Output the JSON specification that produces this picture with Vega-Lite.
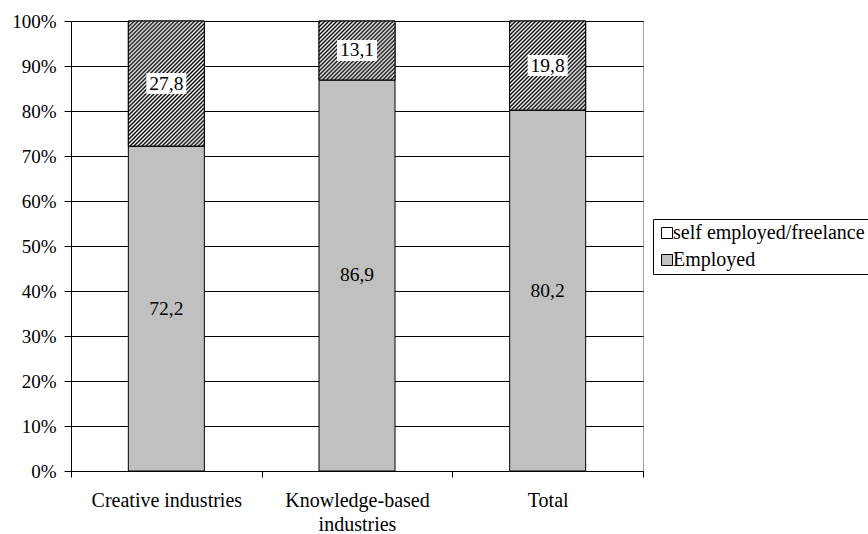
{
  "$schema": "https://vega.github.io/schema/vega-lite/v6.json",
  "width": 572,
  "height": 450,
  "autosize": {"type": "none"},
  "padding": {"left": 71, "top": 21, "right": 225, "bottom": 63},
  "background": "#ffffff",
  "config": {
    "locale": {"number": {"decimal": ",", "thousands": ".", "grouping": [3], "currency": ["", " €"]}},
    "numberFormat": ".0%",
    "view": {"stroke": "#a0a0a0", "strokeWidth": 1},
    "font": "Liberation Serif",
    "axis": {"labelFont": "Liberation Serif", "labelColor": "#000000", "domainColor": "#000000", "tickColor": "#000000", "domainWidth": 1, "tickWidth": 1},
    "axisY": {"grid": true, "gridColor": "#000000", "gridWidth": 1, "tickCount": 10, "tickSize": 7, "labelPadding": 8, "labelFontSize": 19},
    "axisX": {"grid": false}
  },
  "data": {
    "values": [
      {"sector": "Creative industries", "status": "Employed", "share": 72.2},
      {"sector": "Creative industries", "status": "self employed/freelance", "share": 27.8},
      {"sector": "Knowledge-based industries", "status": "Employed", "share": 86.9},
      {"sector": "Knowledge-based industries", "status": "self employed/freelance", "share": 13.1},
      {"sector": "Total", "status": "Employed", "share": 80.2},
      {"sector": "Total", "status": "self employed/freelance", "share": 19.8}
    ]
  },
  "transform": [
    {"stack": "share", "groupby": ["sector"], "sort": [{"field": "status", "order": "ascending"}], "offset": "normalize", "as": ["lo", "hi"]},
    {"calculate": "(datum.lo + datum.hi) / 2", "as": "mid"}
  ],
  "encoding": {
    "x": {
      "field": "sector",
      "type": "nominal",
      "sort": null,
      "title": null,
      "scale": {"paddingInner": 0, "paddingOuter": 0},
      "axis": {
        "labelAngle": 0,
        "labelFontSize": 20,
        "tickBand": "extent",
        "tickSize": 6,
        "labelPadding": 13,
        "labelLineHeight": 24,
        "labelLimit": 300,
        "labelExpr": "datum.value === 'Knowledge-based industries' ? ['Knowledge-based', 'industries'] : datum.value"
      }
    }
  },
  "layer": [
    {
      "mark": {"type": "bar", "size": 76, "stroke": "#000000", "strokeWidth": 1, "opacity": 1},
      "encoding": {
        "y": {"field": "lo", "type": "quantitative", "title": null, "scale": {"domain": [0, 1], "nice": false}},
        "y2": {"field": "hi"},
        "color": {
          "field": "status",
          "type": "nominal",
          "scale": {"domain": ["self employed/freelance", "Employed"], "range": ["#ffffff", "#c0c0c0"]},
          "legend": {
            "title": null,
            "orient": "none",
            "legendX": 582,
            "legendY": 198,
            "direction": "vertical",
            "padding": 4,
            "strokeColor": "#000000",
            "fillColor": "#ffffff",
            "symbolType": "square",
            "symbolSize": 121,
            "symbolStrokeColor": "#000000",
            "symbolStrokeWidth": 1,
            "symbolOpacity": 1,
            "labelFont": "Liberation Serif",
            "labelFontSize": 20,
            "labelColor": "#000000",
            "labelOffset": -4,
            "labelLimit": 300,
            "rowPadding": 7
          }
        }
      }
    },
    {
      "transform": [{"filter": "datum.sector === 'Creative industries' && datum.status !== 'Employed'"}],
      "mark": {"type": "bar", "size": 76, "stroke": "#000000", "strokeWidth": 1, "fill": {"gradient": "linear", "x1": 0, "y1": 0, "x2": 0.7133, "y2": 1.1742, "stops": [
        {"offset": 0, "color": "#fff"}, {"offset": 0.01, "color": "#000"}, {"offset": 0.02, "color": "#fff"}, {"offset": 0.03, "color": "#000"}, {"offset": 0.04, "color": "#fff"}, {"offset": 0.05, "color": "#000"}, {"offset": 0.06, "color": "#fff"}, {"offset": 0.07, "color": "#000"}, {"offset": 0.08, "color": "#fff"}, {"offset": 0.09, "color": "#000"},
        {"offset": 0.1, "color": "#fff"}, {"offset": 0.11, "color": "#000"}, {"offset": 0.12, "color": "#fff"}, {"offset": 0.13, "color": "#000"}, {"offset": 0.14, "color": "#fff"}, {"offset": 0.15, "color": "#000"}, {"offset": 0.16, "color": "#fff"}, {"offset": 0.17, "color": "#000"}, {"offset": 0.18, "color": "#fff"}, {"offset": 0.19, "color": "#000"},
        {"offset": 0.2, "color": "#fff"}, {"offset": 0.21, "color": "#000"}, {"offset": 0.22, "color": "#fff"}, {"offset": 0.23, "color": "#000"}, {"offset": 0.24, "color": "#fff"}, {"offset": 0.25, "color": "#000"}, {"offset": 0.26, "color": "#fff"}, {"offset": 0.27, "color": "#000"}, {"offset": 0.28, "color": "#fff"}, {"offset": 0.29, "color": "#000"},
        {"offset": 0.3, "color": "#fff"}, {"offset": 0.31, "color": "#000"}, {"offset": 0.32, "color": "#fff"}, {"offset": 0.33, "color": "#000"}, {"offset": 0.34, "color": "#fff"}, {"offset": 0.35, "color": "#000"}, {"offset": 0.36, "color": "#fff"}, {"offset": 0.37, "color": "#000"}, {"offset": 0.38, "color": "#fff"}, {"offset": 0.39, "color": "#000"},
        {"offset": 0.4, "color": "#fff"}, {"offset": 0.41, "color": "#000"}, {"offset": 0.42, "color": "#fff"}, {"offset": 0.43, "color": "#000"}, {"offset": 0.44, "color": "#fff"}, {"offset": 0.45, "color": "#000"}, {"offset": 0.46, "color": "#fff"}, {"offset": 0.47, "color": "#000"}, {"offset": 0.48, "color": "#fff"}, {"offset": 0.49, "color": "#000"},
        {"offset": 0.5, "color": "#fff"}, {"offset": 0.51, "color": "#000"}, {"offset": 0.52, "color": "#fff"}, {"offset": 0.53, "color": "#000"}, {"offset": 0.54, "color": "#fff"}, {"offset": 0.55, "color": "#000"}, {"offset": 0.56, "color": "#fff"}, {"offset": 0.57, "color": "#000"}, {"offset": 0.58, "color": "#fff"}, {"offset": 0.59, "color": "#000"},
        {"offset": 0.6, "color": "#fff"}, {"offset": 0.61, "color": "#000"}, {"offset": 0.62, "color": "#fff"}, {"offset": 0.63, "color": "#000"}, {"offset": 0.64, "color": "#fff"}, {"offset": 0.65, "color": "#000"}, {"offset": 0.66, "color": "#fff"}, {"offset": 0.67, "color": "#000"}, {"offset": 0.68, "color": "#fff"}, {"offset": 0.69, "color": "#000"},
        {"offset": 0.7, "color": "#fff"}, {"offset": 0.71, "color": "#000"}, {"offset": 0.72, "color": "#fff"}, {"offset": 0.73, "color": "#000"}, {"offset": 0.74, "color": "#fff"}, {"offset": 0.75, "color": "#000"}, {"offset": 0.76, "color": "#fff"}, {"offset": 0.77, "color": "#000"}, {"offset": 0.78, "color": "#fff"}, {"offset": 0.79, "color": "#000"},
        {"offset": 0.8, "color": "#fff"}, {"offset": 0.81, "color": "#000"}, {"offset": 0.82, "color": "#fff"}, {"offset": 0.83, "color": "#000"}, {"offset": 0.84, "color": "#fff"}, {"offset": 0.85, "color": "#000"}, {"offset": 0.86, "color": "#fff"}, {"offset": 0.87, "color": "#000"}, {"offset": 0.88, "color": "#fff"}, {"offset": 0.89, "color": "#000"},
        {"offset": 0.9, "color": "#fff"}, {"offset": 0.91, "color": "#000"}, {"offset": 0.92, "color": "#fff"}, {"offset": 0.93, "color": "#000"}, {"offset": 0.94, "color": "#fff"}, {"offset": 0.95, "color": "#000"}, {"offset": 0.96, "color": "#fff"}, {"offset": 0.97, "color": "#000"}, {"offset": 0.98, "color": "#fff"}, {"offset": 0.99, "color": "#000"},
        {"offset": 1, "color": "#fff"}
      ]}},
      "encoding": {
        "y": {"field": "lo", "type": "quantitative", "title": null},
        "y2": {"field": "hi"}
      }
    },
    {
      "transform": [{"filter": "datum.sector === 'Knowledge-based industries' && datum.status !== 'Employed'"}],
      "mark": {"type": "bar", "size": 76, "stroke": "#000000", "strokeWidth": 1, "fill": {"gradient": "linear", "x1": 0, "y1": 0, "x2": 1.6521, "y2": 1.2815, "stops": [
        {"offset": 0, "color": "#fff"}, {"offset": 0.01, "color": "#000"}, {"offset": 0.02, "color": "#fff"}, {"offset": 0.03, "color": "#000"}, {"offset": 0.04, "color": "#fff"}, {"offset": 0.05, "color": "#000"}, {"offset": 0.06, "color": "#fff"}, {"offset": 0.07, "color": "#000"}, {"offset": 0.08, "color": "#fff"}, {"offset": 0.09, "color": "#000"},
        {"offset": 0.1, "color": "#fff"}, {"offset": 0.11, "color": "#000"}, {"offset": 0.12, "color": "#fff"}, {"offset": 0.13, "color": "#000"}, {"offset": 0.14, "color": "#fff"}, {"offset": 0.15, "color": "#000"}, {"offset": 0.16, "color": "#fff"}, {"offset": 0.17, "color": "#000"}, {"offset": 0.18, "color": "#fff"}, {"offset": 0.19, "color": "#000"},
        {"offset": 0.2, "color": "#fff"}, {"offset": 0.21, "color": "#000"}, {"offset": 0.22, "color": "#fff"}, {"offset": 0.23, "color": "#000"}, {"offset": 0.24, "color": "#fff"}, {"offset": 0.25, "color": "#000"}, {"offset": 0.26, "color": "#fff"}, {"offset": 0.27, "color": "#000"}, {"offset": 0.28, "color": "#fff"}, {"offset": 0.29, "color": "#000"},
        {"offset": 0.3, "color": "#fff"}, {"offset": 0.31, "color": "#000"}, {"offset": 0.32, "color": "#fff"}, {"offset": 0.33, "color": "#000"}, {"offset": 0.34, "color": "#fff"}, {"offset": 0.35, "color": "#000"}, {"offset": 0.36, "color": "#fff"}, {"offset": 0.37, "color": "#000"}, {"offset": 0.38, "color": "#fff"}, {"offset": 0.39, "color": "#000"},
        {"offset": 0.4, "color": "#fff"}, {"offset": 0.41, "color": "#000"}, {"offset": 0.42, "color": "#fff"}, {"offset": 0.43, "color": "#000"}, {"offset": 0.44, "color": "#fff"}, {"offset": 0.45, "color": "#000"}, {"offset": 0.46, "color": "#fff"}, {"offset": 0.47, "color": "#000"}, {"offset": 0.48, "color": "#fff"}, {"offset": 0.49, "color": "#000"},
        {"offset": 0.5, "color": "#fff"}, {"offset": 0.51, "color": "#000"}, {"offset": 0.52, "color": "#fff"}, {"offset": 0.53, "color": "#000"}, {"offset": 0.54, "color": "#fff"}, {"offset": 0.55, "color": "#000"}, {"offset": 0.56, "color": "#fff"}, {"offset": 0.57, "color": "#000"}, {"offset": 0.58, "color": "#fff"}, {"offset": 0.59, "color": "#000"},
        {"offset": 0.6, "color": "#fff"}, {"offset": 0.61, "color": "#000"}, {"offset": 0.62, "color": "#fff"}, {"offset": 0.63, "color": "#000"}, {"offset": 0.64, "color": "#fff"}, {"offset": 0.65, "color": "#000"}, {"offset": 0.66, "color": "#fff"}, {"offset": 0.67, "color": "#000"}, {"offset": 0.68, "color": "#fff"}, {"offset": 0.69, "color": "#000"},
        {"offset": 0.7, "color": "#fff"}, {"offset": 0.71, "color": "#000"}, {"offset": 0.72, "color": "#fff"}, {"offset": 0.73, "color": "#000"}, {"offset": 0.74, "color": "#fff"}, {"offset": 0.75, "color": "#000"}, {"offset": 0.76, "color": "#fff"}, {"offset": 0.77, "color": "#000"}, {"offset": 0.78, "color": "#fff"}, {"offset": 0.79, "color": "#000"},
        {"offset": 0.8, "color": "#fff"}, {"offset": 0.81, "color": "#000"}, {"offset": 0.82, "color": "#fff"}, {"offset": 0.83, "color": "#000"}, {"offset": 0.84, "color": "#fff"}, {"offset": 0.85, "color": "#000"}, {"offset": 0.86, "color": "#fff"}, {"offset": 0.87, "color": "#000"}, {"offset": 0.88, "color": "#fff"}, {"offset": 0.89, "color": "#000"},
        {"offset": 0.9, "color": "#fff"}, {"offset": 0.91, "color": "#000"}, {"offset": 0.92, "color": "#fff"}, {"offset": 0.93, "color": "#000"}, {"offset": 0.94, "color": "#fff"}, {"offset": 0.95, "color": "#000"}, {"offset": 0.96, "color": "#fff"}, {"offset": 0.97, "color": "#000"}, {"offset": 0.98, "color": "#fff"}, {"offset": 0.99, "color": "#000"},
        {"offset": 1, "color": "#fff"}
      ]}},
      "encoding": {
        "y": {"field": "lo", "type": "quantitative", "title": null},
        "y2": {"field": "hi"}
      }
    },
    {
      "transform": [{"filter": "datum.sector === 'Total' && datum.status !== 'Employed'"}],
      "mark": {"type": "bar", "size": 76, "stroke": "#000000", "strokeWidth": 1, "fill": {"gradient": "linear", "x1": 0, "y1": 0, "x2": 1.1144, "y2": 1.3065, "stops": [
        {"offset": 0, "color": "#fff"}, {"offset": 0.01, "color": "#000"}, {"offset": 0.02, "color": "#fff"}, {"offset": 0.03, "color": "#000"}, {"offset": 0.04, "color": "#fff"}, {"offset": 0.05, "color": "#000"}, {"offset": 0.06, "color": "#fff"}, {"offset": 0.07, "color": "#000"}, {"offset": 0.08, "color": "#fff"}, {"offset": 0.09, "color": "#000"},
        {"offset": 0.1, "color": "#fff"}, {"offset": 0.11, "color": "#000"}, {"offset": 0.12, "color": "#fff"}, {"offset": 0.13, "color": "#000"}, {"offset": 0.14, "color": "#fff"}, {"offset": 0.15, "color": "#000"}, {"offset": 0.16, "color": "#fff"}, {"offset": 0.17, "color": "#000"}, {"offset": 0.18, "color": "#fff"}, {"offset": 0.19, "color": "#000"},
        {"offset": 0.2, "color": "#fff"}, {"offset": 0.21, "color": "#000"}, {"offset": 0.22, "color": "#fff"}, {"offset": 0.23, "color": "#000"}, {"offset": 0.24, "color": "#fff"}, {"offset": 0.25, "color": "#000"}, {"offset": 0.26, "color": "#fff"}, {"offset": 0.27, "color": "#000"}, {"offset": 0.28, "color": "#fff"}, {"offset": 0.29, "color": "#000"},
        {"offset": 0.3, "color": "#fff"}, {"offset": 0.31, "color": "#000"}, {"offset": 0.32, "color": "#fff"}, {"offset": 0.33, "color": "#000"}, {"offset": 0.34, "color": "#fff"}, {"offset": 0.35, "color": "#000"}, {"offset": 0.36, "color": "#fff"}, {"offset": 0.37, "color": "#000"}, {"offset": 0.38, "color": "#fff"}, {"offset": 0.39, "color": "#000"},
        {"offset": 0.4, "color": "#fff"}, {"offset": 0.41, "color": "#000"}, {"offset": 0.42, "color": "#fff"}, {"offset": 0.43, "color": "#000"}, {"offset": 0.44, "color": "#fff"}, {"offset": 0.45, "color": "#000"}, {"offset": 0.46, "color": "#fff"}, {"offset": 0.47, "color": "#000"}, {"offset": 0.48, "color": "#fff"}, {"offset": 0.49, "color": "#000"},
        {"offset": 0.5, "color": "#fff"}, {"offset": 0.51, "color": "#000"}, {"offset": 0.52, "color": "#fff"}, {"offset": 0.53, "color": "#000"}, {"offset": 0.54, "color": "#fff"}, {"offset": 0.55, "color": "#000"}, {"offset": 0.56, "color": "#fff"}, {"offset": 0.57, "color": "#000"}, {"offset": 0.58, "color": "#fff"}, {"offset": 0.59, "color": "#000"},
        {"offset": 0.6, "color": "#fff"}, {"offset": 0.61, "color": "#000"}, {"offset": 0.62, "color": "#fff"}, {"offset": 0.63, "color": "#000"}, {"offset": 0.64, "color": "#fff"}, {"offset": 0.65, "color": "#000"}, {"offset": 0.66, "color": "#fff"}, {"offset": 0.67, "color": "#000"}, {"offset": 0.68, "color": "#fff"}, {"offset": 0.69, "color": "#000"},
        {"offset": 0.7, "color": "#fff"}, {"offset": 0.71, "color": "#000"}, {"offset": 0.72, "color": "#fff"}, {"offset": 0.73, "color": "#000"}, {"offset": 0.74, "color": "#fff"}, {"offset": 0.75, "color": "#000"}, {"offset": 0.76, "color": "#fff"}, {"offset": 0.77, "color": "#000"}, {"offset": 0.78, "color": "#fff"}, {"offset": 0.79, "color": "#000"},
        {"offset": 0.8, "color": "#fff"}, {"offset": 0.81, "color": "#000"}, {"offset": 0.82, "color": "#fff"}, {"offset": 0.83, "color": "#000"}, {"offset": 0.84, "color": "#fff"}, {"offset": 0.85, "color": "#000"}, {"offset": 0.86, "color": "#fff"}, {"offset": 0.87, "color": "#000"}, {"offset": 0.88, "color": "#fff"}, {"offset": 0.89, "color": "#000"},
        {"offset": 0.9, "color": "#fff"}, {"offset": 0.91, "color": "#000"}, {"offset": 0.92, "color": "#fff"}, {"offset": 0.93, "color": "#000"}, {"offset": 0.94, "color": "#fff"}, {"offset": 0.95, "color": "#000"}, {"offset": 0.96, "color": "#fff"}, {"offset": 0.97, "color": "#000"}, {"offset": 0.98, "color": "#fff"}, {"offset": 0.99, "color": "#000"},
        {"offset": 1, "color": "#fff"}
      ]}},
      "encoding": {
        "y": {"field": "lo", "type": "quantitative", "title": null},
        "y2": {"field": "hi"}
      }
    },
    {
      "transform": [{"filter": "datum.status !== 'Employed'"}],
      "mark": {"type": "point", "shape": "M-1,-0.525L1,-0.525L1,0.525L-1,0.525Z", "size": 1600, "filled": true, "fill": "#ffffff", "opacity": 1, "strokeWidth": 0},
      "encoding": {
        "y": {"field": "mid", "type": "quantitative", "title": null}
      }
    },
    {
      "mark": {"type": "text", "font": "Liberation Serif", "fontSize": 19.5, "color": "#000000", "baseline": "middle", "align": "center"},
      "encoding": {
        "y": {"field": "mid", "type": "quantitative", "title": null},
        "text": {"field": "share", "type": "quantitative", "format": ".1f"}
      }
    }
  ]
}
